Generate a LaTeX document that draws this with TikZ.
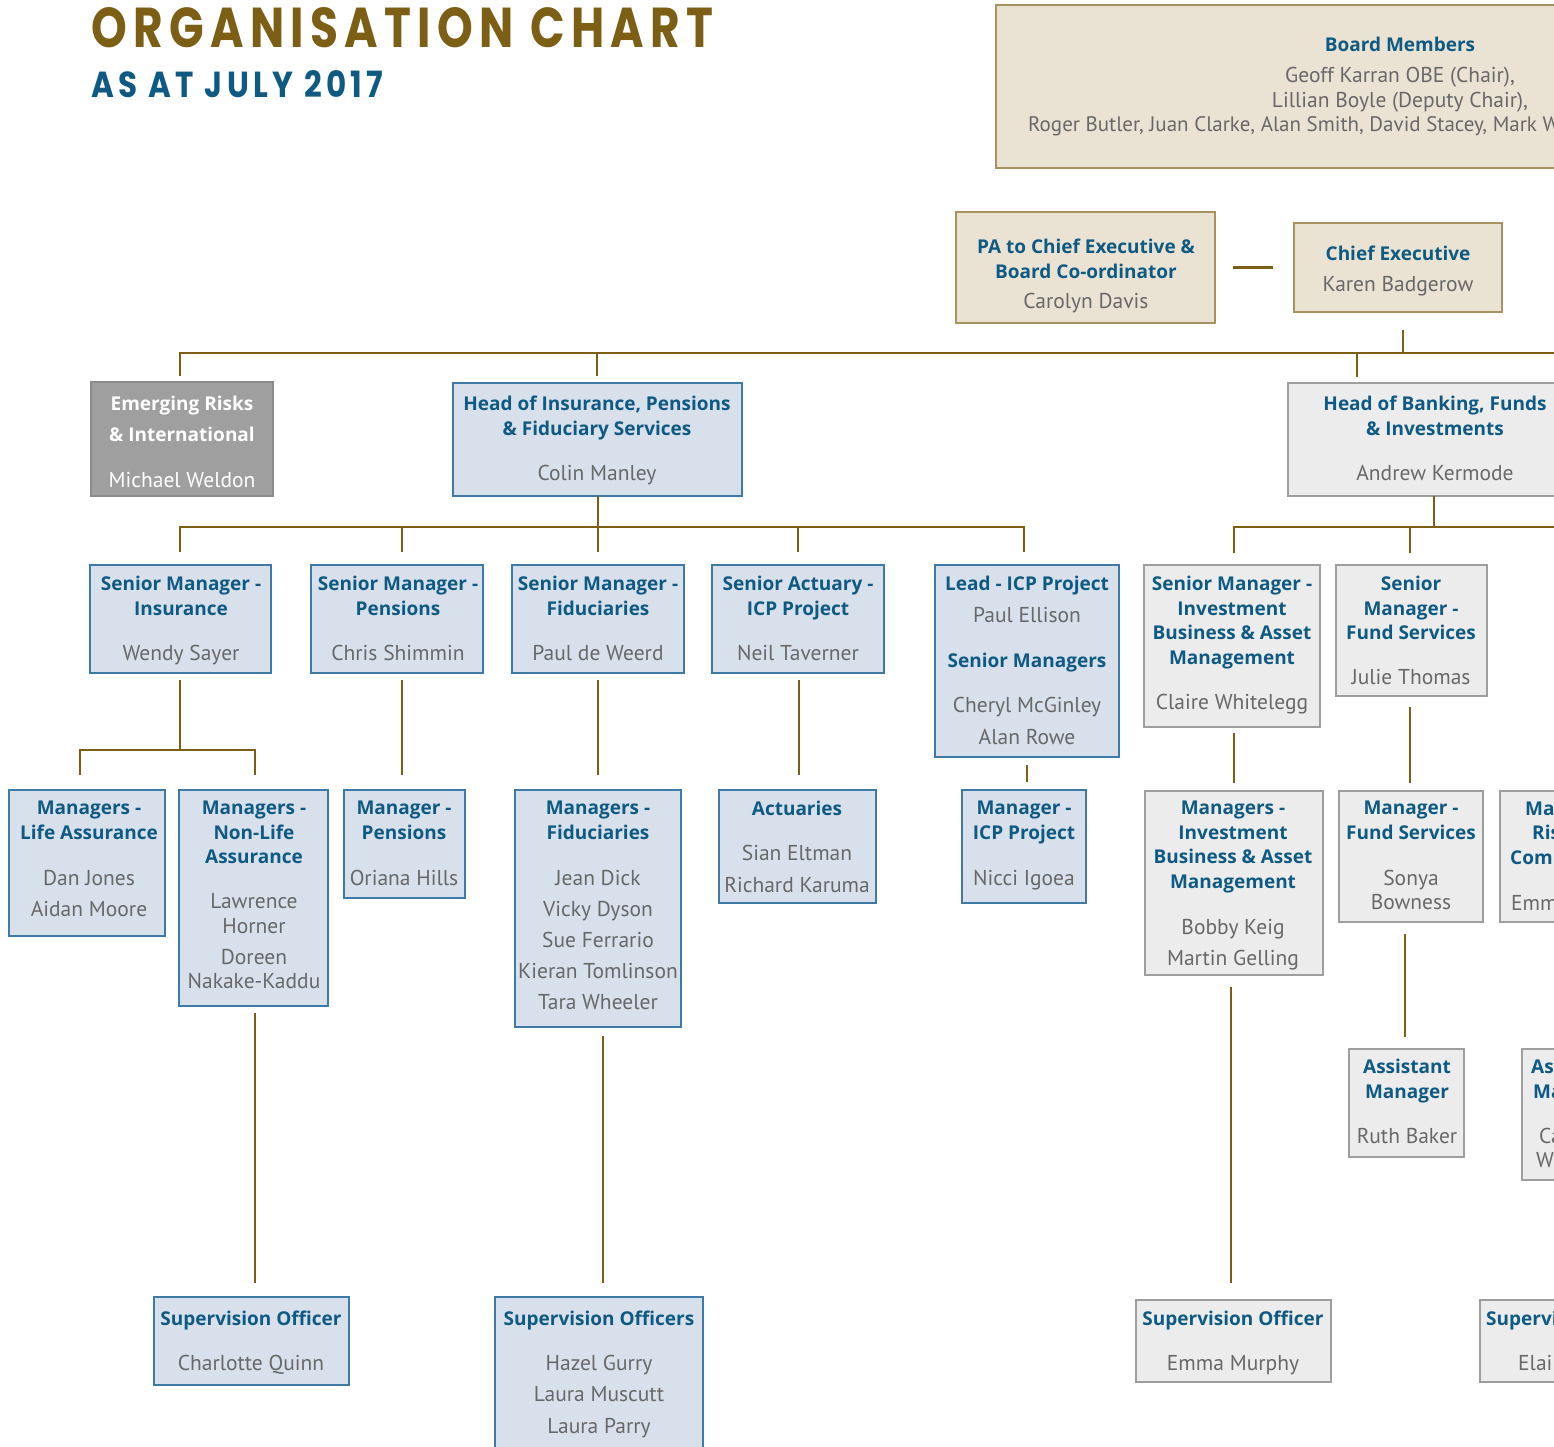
\documentclass[tikz,border=0pt]{standalone}
\usepackage{fontspec}
\usepackage{graphicx}
\setmainfont{PT Sans}
\newfontfamily\hdfont{Open Sans}
\newfontfamily\ttlfont{Poppins}[LetterSpace=14]
\definecolor{gold}{RGB}{124,95,21}
\definecolor{hblue}{RGB}{14,90,130}
\definecolor{namegrey}{RGB}{104,104,104}
\definecolor{beigefill}{RGB}{234,227,212}
\definecolor{beigeline}{RGB}{168,147,96}
\definecolor{bluefill}{RGB}{215,224,235}
\definecolor{blueline}{RGB}{62,122,165}
\definecolor{greyfill}{RGB}{236,236,236}
\definecolor{greyline}{RGB}{158,158,158}
\definecolor{darkfill}{RGB}{159,159,159}
\definecolor{darkline}{RGB}{140,140,140}
\newcommand\hdf{\hdfont\bfseries\fontsize{19}{24.5}\selectfont}
\newcommand\hd[1]{{\hdf\color{hblue}#1}}
\newcommand\hdw[1]{{\hdf\color{white}#1}}
\newcommand\mkbox[6]{\node[#1, anchor=north west, minimum width={#5-#3}, minimum height={#6-#4}] (#2) at (#3,#4) {};}
\tikzset{
  box/.style={rectangle, line width=1.3pt, inner sep=0pt, outer sep=0pt},
  beigebx/.style={box, fill=beigefill, draw=beigeline},
  bluebx/.style={box, fill=bluefill, draw=blueline},
  greybx/.style={box, fill=greyfill, draw=greyline},
  darkbx/.style={box, fill=darkfill, draw=darkline},
  txt/.style={align=center, anchor=north, inner sep=0pt, font=\fontsize{21.5}{24.5}\selectfont, text=namegrey, execute at begin node={\rule{0pt}{15pt}}, yshift=-2pt},
  part/.style={anchor=base west, inner sep=0pt, font=\fontsize{21.5}{24.5}\selectfont, text=namegrey},
  conn/.style={draw=gold, line width=2.6pt},
}
\begin{document}
\begin{tikzpicture}[x=1pt,y=-1pt]
\useasboundingbox (0,0) rectangle (1554,1446);
\clip (0,0) rectangle (1554,1446);
\fill[white] (0,0) rectangle (1554,1446);

% title
\node[anchor=base west, inner sep=0pt, text=gold] (title) at (91,47) {\resizebox{622pt}{40pt}{\ttlfont\bfseries ORGANISATION CHART}};
\node[anchor=base west, inner sep=0pt, text=hblue] (subtitle) at (91,97) {\resizebox{292pt}{27pt}{\ttlfont\bfseries AS AT JULY 2017}};

% boxes
\mkbox{beigebx}{board}{996}{5}{1804}{168}
\mkbox{beigebx}{pa}{956}{212}{1215}{323}
\mkbox{beigebx}{ce}{1294}{223}{1502}{312}
\mkbox{darkbx}{er}{91}{382}{273}{496}
\mkbox{bluebx}{ins}{453}{383}{742}{496}
\mkbox{greybx}{bank}{1288}{383}{1582}{496}
\mkbox{bluebx}{smins}{90}{565}{271}{673}
\mkbox{bluebx}{smpen}{311}{565}{483}{673}
\mkbox{bluebx}{smfid}{512}{565}{684}{673}
\mkbox{bluebx}{sact}{712}{565}{884}{673}
\mkbox{bluebx}{lead}{935}{565}{1119}{757}
\mkbox{greybx}{sminv}{1144}{565}{1320}{727}
\mkbox{greybx}{smfund}{1336}{565}{1487}{696}
\mkbox{bluebx}{mlife}{9}{790}{165}{936}
\mkbox{bluebx}{mnon}{179}{790}{328}{1006}
\mkbox{bluebx}{mpen}{344}{790}{465}{898}
\mkbox{bluebx}{mfid}{515}{790}{681}{1027}
\mkbox{bluebx}{act}{719}{790}{876}{903}
\mkbox{bluebx}{micp}{962}{790}{1086}{903}
\mkbox{greybx}{minv}{1145}{791}{1323}{975}
\mkbox{greybx}{mfund}{1339}{791}{1483}{922}
\mkbox{greybx}{mrisk}{1500}{791}{1660}{922}
\mkbox{greybx}{asst}{1349}{1049}{1464}{1157}
\mkbox{greybx}{asst2}{1522}{1049}{1660}{1180}
\mkbox{bluebx}{sup1}{154}{1297}{349}{1385}
\mkbox{bluebx}{sup2}{495}{1297}{703}{1470}
\mkbox{greybx}{sup3}{1136}{1300}{1331}{1382}
\mkbox{greybx}{sup4}{1480}{1300}{1660}{1382}

% texts
\node[txt] (board-t) at (1400,35) {\hd{Board Members}\\[6.5pt] Geoff Karran OBE (Chair),\\ Lillian Boyle (Deputy Chair),};
\node[part, font=\fontsize{21}{24.5}\selectfont] (board-r) at (1028,131) {Roger Butler, Juan Clarke, Alan Smith, David Stacey, Mark W};
\node[txt] (pa-t) at (1086,237) {\hd{PA to Chief Executive \&}\\\hd{Board Co-ordinator}\\[5.5pt] Carolyn Davis};
\node[txt] (ce-t) at (1398,244) {\hd{Chief Executive}\\[6.5pt] Karen Badgerow};
\node[txt, text=white] (er-t) at (182,394) {\hdw{Emerging Risks}\\[6.5pt]\hdw{\& International}\\[21.5pt] Michael Weldon};
\node[txt] (ins-t) at (597,394) {\hd{Head of Insurance, Pensions}\\\hd{\& Fiduciary Services}\\[20.5pt] Colin Manley};
\node[txt] (bank-t) at (1435,394) {\hd{Head of Banking, Funds}\\\hd{\& Investments}\\[20.5pt] Andrew Kermode};
\node[txt] (smins-t) at (181,574) {\hd{Senior Manager -}\\\hd{Insurance}\\[20.5pt] Wendy Sayer};
\node[txt] (smpen-t) at (398,574) {\hd{Senior Manager -}\\\hd{Pensions}\\[20.5pt] Chris Shimmin};
\node[txt] (smfid-t) at (598,574) {\hd{Senior Manager -}\\\hd{Fiduciaries}\\[20.5pt] Paul de Weerd};
\node[txt] (sact-t) at (798,574) {\hd{Senior Actuary -}\\\hd{ICP Project}\\[20.5pt] Neil Taverner};
\node[txt] (lead-t) at (1027,574) {\hd{Lead - ICP Project}\\[7.5pt] Paul Ellison\\[20.5pt]\hd{Senior Managers}\\[20.5pt] Cheryl McGinley\\[7.5pt] Alan Rowe};
\node[txt] (sminv-t) at (1232,574) {\hd{Senior Manager -}\\\hd{Investment}\\\hd{Business \& Asset}\\\hd{Management}\\[20.5pt] Claire Whitelegg};
\node[txt] (smfund-t) at (1411,574) {\hd{Senior}\\\hd{Manager -}\\\hd{Fund Services}\\[20.5pt] Julie Thomas};
\node[txt] (mlife-t) at (89,799) {\hd{Managers -}\\\hd{Life Assurance}\\[21.5pt] Dan Jones\\[6.5pt] Aidan Moore};
\node[txt] (mnon-t) at (254,799) {\hd{Managers -}\\\hd{Non-Life}\\\hd{Assurance}\\[20.5pt] Lawrence\\ Horner\\[6.5pt] Doreen\\ Nakake-Kaddu};
\node[txt] (mpen-t) at (404,799) {\hd{Manager -}\\\hd{Pensions}\\[21.5pt] Oriana Hills};
\node[txt] (mfid-t) at (598,799) {\hd{Managers -}\\\hd{Fiduciaries}\\[21.5pt] Jean Dick\\[6.5pt] Vicky Dyson\\[6.5pt] Sue Ferrario\\[6.5pt] Kieran Tomlinson\\[6.5pt] Tara Wheeler};
\node[txt] (act-t) at (797,799) {\hd{Actuaries}\\[20.5pt] Sian Eltman\\[7.5pt] Richard Karuma};
\node[txt] (micp-t) at (1024,799) {\hd{Manager -}\\\hd{ICP Project}\\[21.5pt] Nicci Igoea};
\node[txt] (minv-t) at (1233,799) {\hd{Managers -}\\\hd{Investment}\\\hd{Business \& Asset}\\\hd{Management}\\[21.5pt] Bobby Keig\\[6.5pt] Martin Gelling};
\node[txt] (mfund-t) at (1411,799) {\hd{Manager -}\\\hd{Fund Services}\\[21.5pt] Sonya\\ Bowness};
\node[part] (mrisk-a) at (1525,815) {\hd{Man}};
\node[part] (mrisk-b) at (1532,839) {\hd{Ris}};
\node[part] (mrisk-c) at (1510,864) {\hd{Com}};
\node[part] (mrisk-d) at (1511,910) {Emm};
\node[txt] (asst-t) at (1407,1057) {\hd{Assistant}\\\hd{Manager}\\[20.5pt] Ruth Baker};
\node[part] (asst2-a) at (1531,1073) {\hd{As}};
\node[part] (asst2-b) at (1533,1098) {\hd{Ma}};
\node[part] (asst2-c) at (1539,1143) {Ca};
\node[part] (asst2-d) at (1536,1167) {W};
\node[txt] (sup1-t) at (251,1309) {\hd{Supervision Officer}\\[20.5pt] Charlotte Quinn};
\node[txt] (sup2-t) at (599,1309) {\hd{Supervision Officers}\\[20.5pt] Hazel Gurry\\[6.5pt] Laura Muscutt\\[7.5pt] Laura Parry};
\node[txt] (sup3-t) at (1233,1309) {\hd{Supervision Officer}\\[20.5pt] Emma Murphy};
\node[part] (sup4-a) at (1486,1325) {\hd{Supervi}};
\node[part] (sup4-b) at (1518,1370) {Elai};

% connectors
\draw[conn, shorten <=18pt, shorten >=21pt] (pa.east) -- (pa.east -| ce.west);
\coordinate (t0) at (1403,353);
\coordinate (tL) at (180,353);
\coordinate (tR) at (1570,353);
\coordinate (t1) at (597,353);
\coordinate (t2) at (1357,353);
\draw[conn, shorten <=18pt] (t0 |- ce.south) -- (t0);
\draw[conn, shorten <=6pt] (tL |- er.north) -- (tL) -- (tR);
\draw[conn, shorten >=7pt] (t1) -- (t1 |- ins.north);
\draw[conn, shorten >=6pt] (t2) -- (t2 |- bank.north);

\coordinate (i0) at (598,527);
\coordinate (iL) at (180,527);
\coordinate (iR) at (1024,527);
\coordinate (i2) at (402,527);
\coordinate (i4) at (798,527);
\draw[conn, shorten >=13pt] (i0 |- ins.south) -- (i0 |- smfid.north);
\draw[conn, shorten <=13pt, shorten >=13pt] (iL |- smins.north) -- (iL) -- (iR) -- (iR |- lead.north);
\draw[conn, shorten >=13pt] (i2) -- (i2 |- smpen.north);
\draw[conn, shorten >=13pt] (i4) -- (i4 |- sact.north);

\coordinate (b0) at (1434,527);
\coordinate (bL) at (1234,527);
\coordinate (bR) at (1570,527);
\coordinate (b2) at (1410,527);
\draw[conn] (b0 |- bank.south) -- (b0);
\draw[conn, shorten <=12pt] (bL |- sminv.north) -- (bL) -- (bR);
\draw[conn, shorten >=12pt] (b2) -- (b2 |- smfund.north);

\coordinate (s0) at (180,750);
\coordinate (sL) at (80,750);
\coordinate (sR) at (255,750);
\draw[conn, shorten <=7pt] (s0 |- smins.south) -- (s0);
\draw[conn, shorten <=15pt, shorten >=15pt] (sL |- mlife.north) -- (sL) -- (sR) -- (sR |- mnon.north);
\coordinate (p0) at (402,700);
\draw[conn, shorten <=7pt, shorten >=15pt] (p0 |- smpen.south) -- (p0 |- mpen.north);
\coordinate (f0) at (598,700);
\draw[conn, shorten <=7pt, shorten >=15pt] (f0 |- smfid.south) -- (f0 |- mfid.north);
\coordinate (a0) at (799,700);
\draw[conn, shorten <=7pt, shorten >=15pt] (a0 |- sact.south) -- (a0 |- act.north);
\coordinate (l0) at (1027,700);
\draw[conn, shorten <=8pt, shorten >=8pt] (l0 |- lead.south) -- (l0 |- micp.north);
\coordinate (v0) at (1234,700);
\draw[conn, shorten <=6pt, shorten >=8pt] (v0 |- sminv.south) -- (v0 |- minv.north);
\coordinate (u0) at (1410,700);
\draw[conn, shorten <=11pt, shorten >=8pt] (u0 |- smfund.south) -- (u0 |- mfund.north);

\coordinate (n0) at (255,1100);
\draw[conn, shorten <=7pt, shorten >=14pt] (n0 |- mnon.south) -- (n0 |- sup1.north);
\coordinate (g0) at (603,1100);
\draw[conn, shorten <=9pt, shorten >=14pt] (g0 |- mfid.south) -- (g0 |- sup2.north);
\coordinate (k0) at (1231,1100);
\draw[conn, shorten <=12pt, shorten >=17pt] (k0 |- minv.south) -- (k0 |- sup3.north);
\coordinate (h0) at (1405,1000);
\draw[conn, shorten <=12pt, shorten >=12pt] (h0 |- mfund.south) -- (h0 |- asst.north);
\end{tikzpicture}
\end{document}
